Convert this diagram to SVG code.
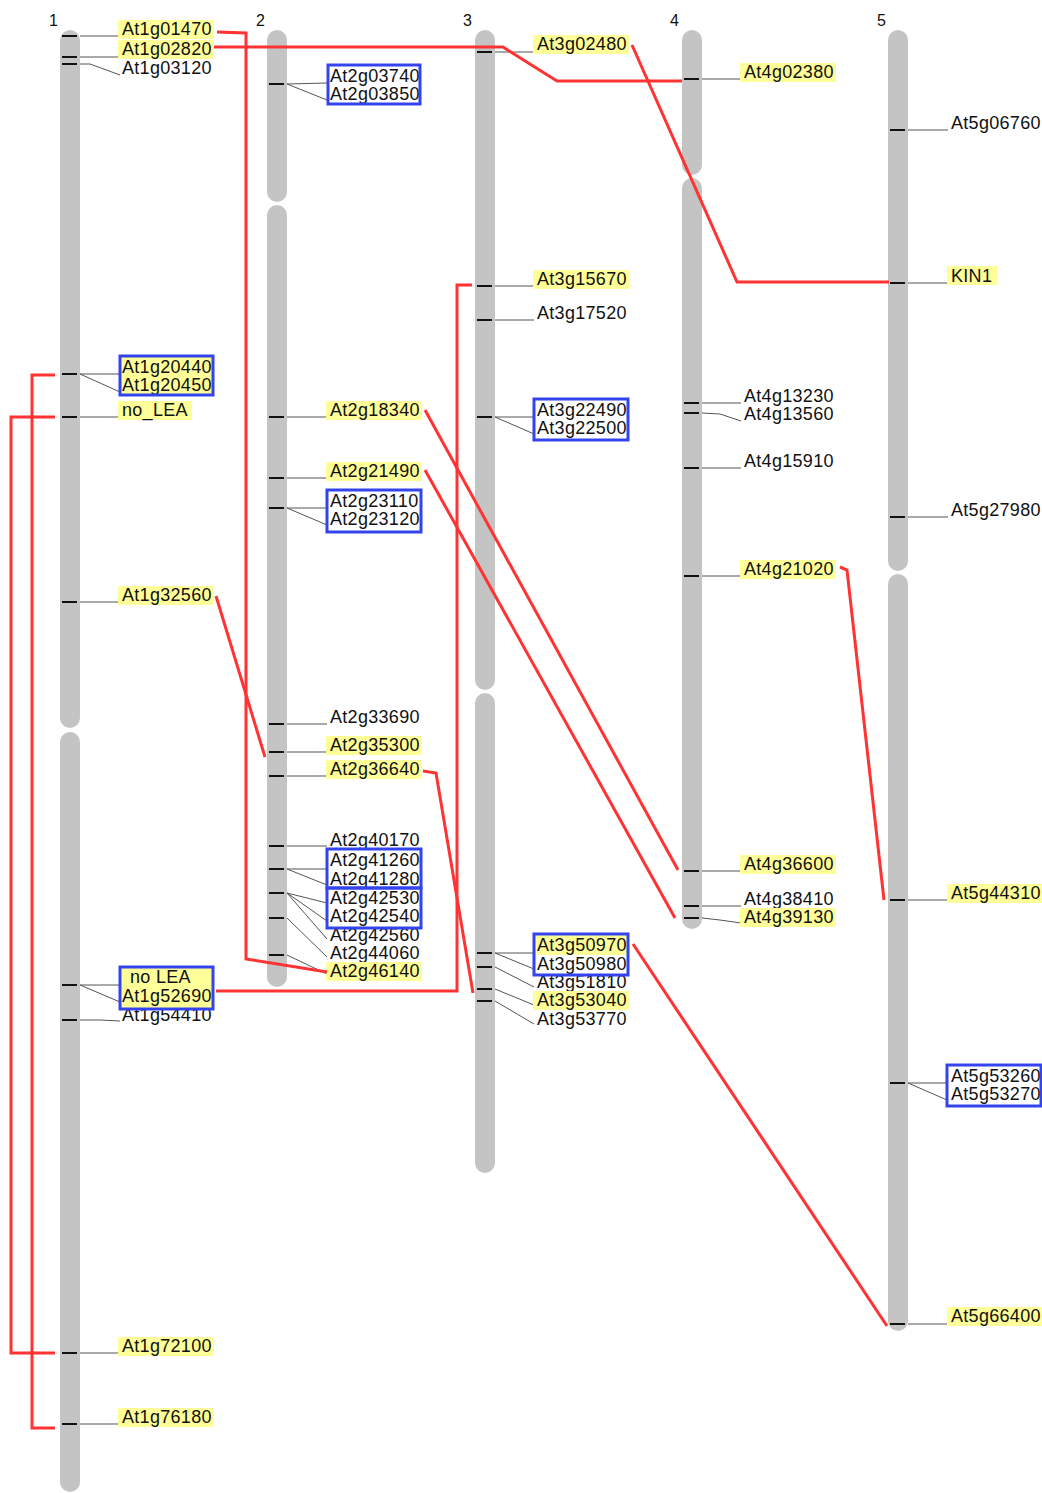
<svg xmlns="http://www.w3.org/2000/svg" width="1042" height="1493" viewBox="0 0 1042 1493">
<style>
.chr{fill:#c4c4c4}
.tick{stroke:#111;stroke-width:2}
.lead{stroke:#555;stroke-width:1;fill:none}
.hl{fill:#ffff99}
.box{fill:none;stroke:#3344ee;stroke-width:3}
.red{stroke:#ff3333;stroke-width:3;fill:none}
text{font-family:"Liberation Sans",Arial,sans-serif;font-size:18px;fill:#111;letter-spacing:0.3px}
.num{font-size:16px;letter-spacing:0}
</style>
<rect width="1042" height="1493" fill="#ffffff"/>

<g id="chromosomes">
<g id="chr1"><text class="num" x="49" y="26">1</text>
<rect class="chr" x="60" y="30" width="20" height="698" rx="10"/>
<rect class="chr" x="60" y="732" width="20" height="760" rx="10"/></g>
<g id="chr2"><text class="num" x="256" y="26">2</text>
<rect class="chr" x="267" y="30" width="20" height="172" rx="10"/>
<rect class="chr" x="267" y="205" width="20" height="782" rx="10"/></g>
<g id="chr3"><text class="num" x="463" y="26">3</text>
<rect class="chr" x="475" y="30" width="20" height="660" rx="10"/>
<rect class="chr" x="475" y="693" width="20" height="480" rx="10"/></g>
<g id="chr4"><text class="num" x="670" y="26">4</text>
<rect class="chr" x="682" y="30" width="20" height="145" rx="10"/>
<rect class="chr" x="682" y="178" width="20" height="751" rx="10"/></g>
<g id="chr5"><text class="num" x="877" y="26">5</text>
<rect class="chr" x="888" y="30" width="20" height="541" rx="10"/>
<rect class="chr" x="888" y="574" width="20" height="757" rx="10"/></g>
</g>

<g id="ticks">
<path class="tick" d="M62 36H77M62 57H77M62 64H77M62 374H77M62 417H77M62 602H77M62 985H77M62 1020H77M62 1353H77M62 1424H77"/>
<path class="tick" d="M269 84H284M269 417H284M269 478H284M269 508H284M269 724H284M269 752H284M269 776H284M269 846H284M269 869H284M269 893H284M269 918H284M269 955H284"/>
<path class="tick" d="M477 52H492M477 286H492M477 320H492M477 417H492M477 953H492M477 967H492M477 989H492M477 1001H492"/>
<path class="tick" d="M684 79H699M684 403H699M684 413H699M684 468H699M684 576H699M684 871H699M684 906H699M684 918H699"/>
<path class="tick" d="M890 130H905M890 283H905M890 517H905M890 900H905M890 1083H905M890 1324H905"/>
</g>

<g id="leads">
<path class="lead" d="M80 36H120M80 57H120M80 64L90 64L120 75M80 374H120M80 374L120 392M80 417H120M80 602H120M80 985H120M80 985L120 1002M80 1020H100L120 1021M80 1353H120M80 1424H120"/>
<path class="lead" d="M287 84L327 83M287 84L327 100M287 417H327M287 478H327M287 508H327M287 508L327 525M287 724H327M287 752H327M287 776H327M287 846H327M287 869H327M287 869L327 885M287 893L327 903M287 893L327 921M287 893L327 939M287 918L327 957M287 955L327 974"/>
<path class="lead" d="M495 52H534M495 286H534M495 320H534M495 417H534M495 417L534 434M495 953H534M495 953L534 969M495 967L534 987M495 989L534 1005M495 1001L534 1024"/>
<path class="lead" d="M702 79H741M702 403H741M702 413L720 414L741 421M702 468H741M702 576H741M702 871H741M702 906H741M702 918L720 920L741 923"/>
<path class="lead" d="M908 130H948M908 283H948M908 517H948M908 900H948M908 1083H947M908 1083L947 1100M908 1324H948"/>
</g>

<g id="labels-chr1">
<g id="At1g01470"><rect class="hl" x="118" y="20" width="96" height="19"/><text x="122" y="35">At1g01470</text></g>
<g id="At1g02820"><rect class="hl" x="118" y="40" width="96" height="19"/><text x="122" y="55">At1g02820</text></g>
<g id="At1g03120"><text x="122" y="74">At1g03120</text></g>
<g id="At1g20440box"><rect class="hl" x="120" y="356" width="93" height="39"/><text x="122" y="373">At1g20440</text><text x="122" y="391">At1g20450</text><rect class="box" x="120" y="356" width="93" height="39"/></g>
<g id="no_LEA"><rect class="hl" x="118" y="401" width="74" height="19"/><text x="122" y="416">no_LEA</text></g>
<g id="At1g32560"><rect class="hl" x="118" y="586" width="96" height="19"/><text x="122" y="601">At1g32560</text></g>
<g id="At1g54410"><text x="122" y="1021">At1g54410</text></g>
<g id="At1g52690box"><rect class="hl" x="120" y="967" width="93" height="42"/><text x="130" y="983">no LEA</text><text x="122" y="1002">At1g52690</text><rect class="box" x="120" y="967" width="93" height="42"/></g>
<g id="At1g72100"><rect class="hl" x="118" y="1337" width="96" height="19"/><text x="122" y="1352">At1g72100</text></g>
<g id="At1g76180"><rect class="hl" x="118" y="1408" width="96" height="19"/><text x="122" y="1423">At1g76180</text></g>
</g>

<g id="labels-chr2">
<g id="At2g03740box"><text x="330" y="82">At2g03740</text><text x="330" y="100">At2g03850</text><rect class="box" x="328" y="65" width="92" height="39"/></g>
<g id="At2g18340"><rect class="hl" x="326" y="401" width="96" height="19"/><text x="330" y="416">At2g18340</text></g>
<g id="At2g21490"><rect class="hl" x="326" y="462" width="96" height="19"/><text x="330" y="477">At2g21490</text></g>
<g id="At2g23110box"><text x="330" y="507">At2g23110</text><text x="330" y="525">At2g23120</text><rect class="box" x="327" y="490" width="94" height="42"/></g>
<g id="At2g33690"><text x="330" y="723">At2g33690</text></g>
<g id="At2g35300"><rect class="hl" x="326" y="736" width="96" height="19"/><text x="330" y="751">At2g35300</text></g>
<g id="At2g36640"><rect class="hl" x="326" y="760" width="96" height="19"/><text x="330" y="775">At2g36640</text></g>
<g id="At2g40170"><text x="330" y="846">At2g40170</text></g>
<g id="At2g42560"><text x="330" y="941">At2g42560</text></g>
<g id="At2g44060"><text x="330" y="959">At2g44060</text></g>
<g id="At2g46140"><rect class="hl" x="326" y="962" width="96" height="19"/><text x="330" y="977">At2g46140</text></g>
<g id="At2g41260box"><text x="330" y="866">At2g41260</text><text x="330" y="885">At2g41280</text><rect class="box" x="327" y="849" width="94" height="39"/></g>
<g id="At2g42530box"><text x="330" y="904">At2g42530</text><text x="330" y="922">At2g42540</text><rect class="box" x="327" y="888" width="94" height="40"/></g>
</g>

<g id="labels-chr3">
<g id="At3g02480"><rect class="hl" x="533" y="35" width="96" height="19"/><text x="537" y="50">At3g02480</text></g>
<g id="At3g15670"><rect class="hl" x="533" y="270" width="96" height="19"/><text x="537" y="285">At3g15670</text></g>
<g id="At3g17520"><text x="537" y="319">At3g17520</text></g>
<g id="At3g22490box"><text x="537" y="416">At3g22490</text><text x="537" y="434">At3g22500</text><rect class="box" x="534" y="399" width="94" height="41"/></g>
<g id="At3g51810"><text x="537" y="988">At3g51810</text></g>
<g id="At3g53040"><rect class="hl" x="533" y="991" width="96" height="19"/><text x="537" y="1006">At3g53040</text></g>
<g id="At3g53770"><text x="537" y="1025">At3g53770</text></g>
<g id="At3g50970box"><rect fill="#ffffff" x="534" y="934" width="94" height="41"/><rect class="hl" x="535" y="935" width="92" height="20"/><text x="537" y="951">At3g50970</text><text x="537" y="970">At3g50980</text><rect class="box" x="534" y="934" width="94" height="41"/></g>
</g>

<g id="labels-chr4">
<g id="At4g02380"><rect class="hl" x="740" y="63" width="96" height="19"/><text x="744" y="78">At4g02380</text></g>
<g id="At4g13230"><text x="744" y="402">At4g13230</text></g>
<g id="At4g13560"><text x="744" y="420">At4g13560</text></g>
<g id="At4g15910"><text x="744" y="467">At4g15910</text></g>
<g id="At4g21020"><rect class="hl" x="740" y="560" width="96" height="19"/><text x="744" y="575">At4g21020</text></g>
<g id="At4g36600"><rect class="hl" x="740" y="855" width="96" height="19"/><text x="744" y="870">At4g36600</text></g>
<g id="At4g38410"><text x="744" y="905">At4g38410</text></g>
<g id="At4g39130"><rect class="hl" x="740" y="908" width="96" height="19"/><text x="744" y="923">At4g39130</text></g>
</g>

<g id="labels-chr5">
<g id="At5g06760"><text x="951" y="129">At5g06760</text></g>
<g id="KIN1"><rect class="hl" x="947" y="266" width="50" height="19"/><text x="951" y="282">KIN1</text></g>
<g id="At5g27980"><text x="951" y="516">At5g27980</text></g>
<g id="At5g44310"><rect class="hl" x="947" y="884" width="95" height="19"/><text x="951" y="899">At5g44310</text></g>
<g id="At5g53260box"><text x="951" y="1082">At5g53260</text><text x="951" y="1100">At5g53270</text><rect class="box" x="947" y="1065" width="94" height="41"/></g>
<g id="At5g66400"><rect class="hl" x="947" y="1307" width="95" height="19"/><text x="951" y="1322">At5g66400</text></g>
</g>

<g id="connectors">
<polyline class="red" points="217,32 246,33 246,959 327,972"/>
<polyline class="red" points="214,47 503,47 557,81 682,81"/>
<polyline class="red" points="632,45 737,282 889,282"/>
<polyline class="red" points="55,375 32,375 32,1428 55,1428"/>
<polyline class="red" points="55,417 11,417 11,1353 55,1353"/>
<polyline class="red" points="216,596 265,757"/>
<polyline class="red" points="423,771 436,773 473,993"/>
<polyline class="red" points="216,991 457,991 457,285 472,285"/>
<polyline class="red" points="425,410 678,870"/>
<polyline class="red" points="425,470 675,918"/>
<polyline class="red" points="840,567 847,570 884,900"/>
<polyline class="red" points="633,944 887,1326"/>
</g>
</svg>
